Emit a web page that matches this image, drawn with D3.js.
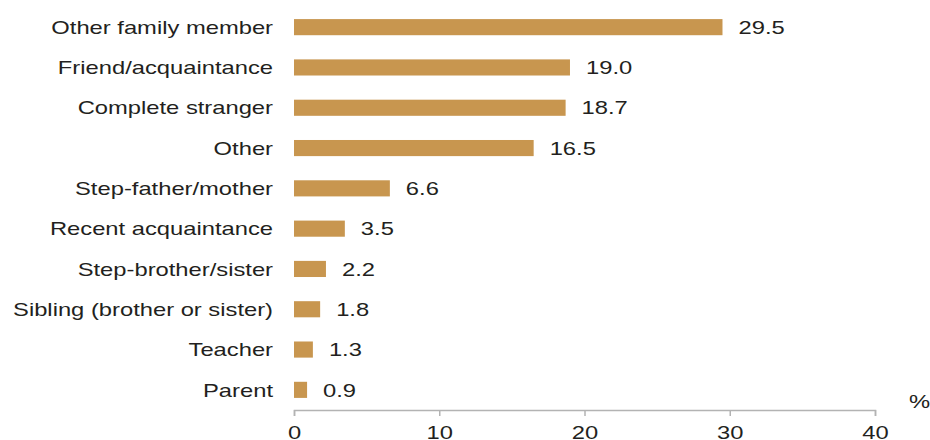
<!DOCTYPE html>
<html>
<head>
<meta charset="utf-8">
<script src="https://cdn.jsdelivr.net/npm/d3@7"></script>
<style>
  html, body { margin: 0; padding: 0; background: #ffffff; }
  svg { display: block; }
  text { font-family: "Liberation Sans", Arial, sans-serif; fill: #231f20; }
</style>
</head>
<body>
<svg id="chart" width="930" height="440"></svg>
<script>
const categories = [
  "Other family member",
  "Friend/acquaintance",
  "Complete stranger",
  "Other",
  "Step-father/mother",
  "Recent acquaintance",
  "Step-brother/sister",
  "Sibling (brother or sister)",
  "Teacher",
  "Parent"
];
const values = [29.5, 19.0, 18.7, 16.5, 6.6, 3.5, 2.2, 1.8, 1.3, 0.9];
const xTicks = [0, 10, 20, 30, 40];
const unitLabel = "%";

const sx = 1.25; // horizontal stretch of the lettering in the reference
const fontSize = 19;

const svg = d3.select("#chart");
const x = d3.scaleLinear().domain([0, 40]).range([294, 875]);
const y = d3.scaleBand().domain(categories).range([7, 410]).paddingInner(0.6).paddingOuter(0.3);

const barColor = "#c8964f";

// bars
svg.append("g").selectAll("rect")
  .data(categories)
  .join("rect")
  .attr("x", x(0))
  .attr("y", d => y(d))
  .attr("width", (d, i) => x(values[i]) - x(0))
  .attr("height", y.bandwidth())
  .attr("fill", barColor);

// category labels
svg.append("g").selectAll("text")
  .data(categories)
  .join("text")
  .attr("transform", d => `translate(273,${y(d) + y.bandwidth() / 2}) scale(${sx},1)`)
  .attr("dy", "0.35em")
  .attr("text-anchor", "end")
  .attr("font-size", fontSize)
  .text(d => d);

// value labels
svg.append("g").selectAll("text")
  .data(categories)
  .join("text")
  .attr("transform", (d, i) => `translate(${x(values[i]) + 16},${y(d) + y.bandwidth() / 2}) scale(${sx},1)`)
  .attr("dy", "0.35em")
  .attr("font-size", fontSize)
  .text((d, i) => values[i].toFixed(1));

// x axis
const axis = d3.axisBottom(x).tickValues(xTicks).tickSize(6).tickPadding(10).tickFormat(d3.format("d"));
const gx = svg.append("g").attr("transform", "translate(0,410)").call(axis);
gx.select(".domain").attr("stroke", "#b3b3b3").attr("stroke-width", 1.5);
gx.selectAll(".tick line").attr("stroke", "#b3b3b3").attr("stroke-width", 1.5);
gx.selectAll(".tick text")
  .attr("font-size", fontSize)
  .attr("font-family", "Liberation Sans, Arial, sans-serif")
  .attr("fill", "#231f20")
  .attr("transform", `scale(${sx},1)`);

// unit label
svg.append("text")
  .attr("transform", `translate(919.5,408) scale(${sx},1)`)
  .attr("text-anchor", "middle")
  .attr("font-size", fontSize)
  .text(unitLabel);
</script>
</body>
</html>
